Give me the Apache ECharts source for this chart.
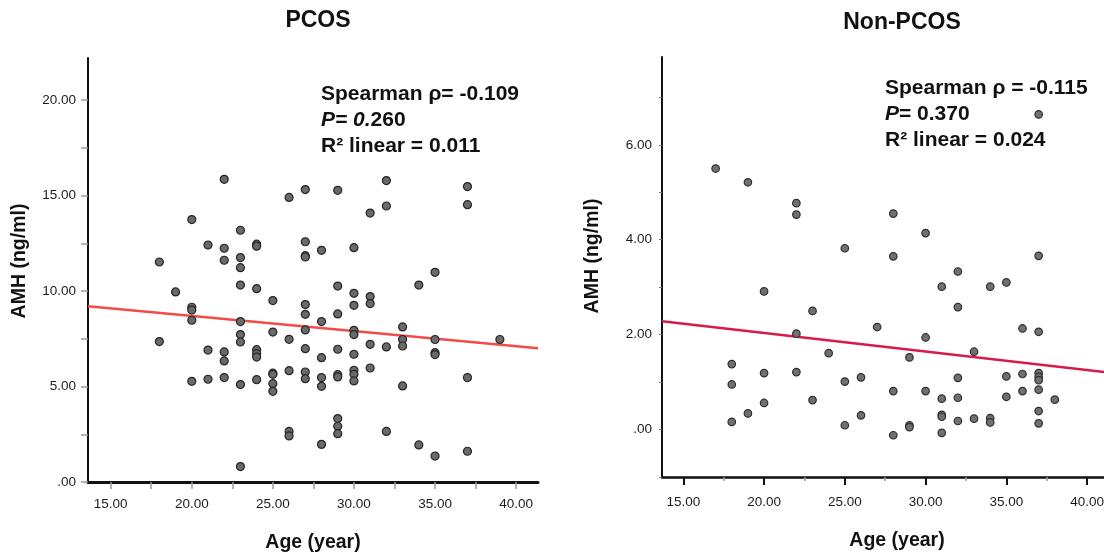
<!DOCTYPE html>
<html>
<head>
<meta charset="utf-8">
<script src="https://cdn.jsdelivr.net/npm/echarts@6/dist/echarts.min.js"></script>
<style>
  html, body { margin: 0; padding: 0; background: #fff; }
  #chart { width: 1104px; height: 556px; }
</style>
</head>
<body>
<div id="chart"></div>
<script>
// PCOS group: ages and the AMH values seen at each age
const pcosAges = [18, 19, 20, 21, 22, 23, 24, 25, 26, 27, 28, 29, 30, 31, 32, 33, 34, 35, 37, 39]
const pcosAmh = [
  [11.52, 7.35],
  [9.95],
  [13.74, 9.15, 9.0, 8.47, 5.27],
  [12.41, 6.91, 5.38],
  [15.85, 12.24, 11.61, 6.81, 6.34, 5.47],
  [13.18, 11.75, 11.22, 10.31, 8.4, 7.72, 7.33, 5.1, 0.81],
  [12.45, 12.35, 10.12, 6.93, 6.72, 6.54, 5.36],
  [9.5, 7.85, 5.7, 5.64, 5.15, 4.75],
  [14.9, 7.47, 5.83, 2.65, 2.41],
  [15.31, 12.58, 11.85, 11.78, 9.29, 8.78, 7.96, 6.98, 5.76, 5.41],
  [12.13, 8.4, 6.51, 5.47, 5.01, 1.97],
  [15.27, 10.26, 8.8, 6.95, 5.62, 5.5, 3.32, 2.92, 2.53],
  [12.27, 9.88, 9.25, 7.94, 7.72, 6.69, 5.85, 5.64, 5.29],
  [14.08, 9.71, 9.34, 7.21, 5.97],
  [15.78, 14.45, 7.07, 2.65],
  [8.12, 7.46, 7.12, 5.03],
  [10.31, 1.94],
  [10.98, 7.46, 6.77, 6.67, 1.36],
  [15.47, 14.52, 5.47, 1.61],
  [7.46]
]
// linear fit line (ends at the axis extent)
const pcosFitAge = [13.6, 41.35]
const pcosFitAmh = [9.2, 7.0]

// Non-PCOS group
const nonAges = [17, 18, 19, 20, 22, 23, 24, 25, 26, 27, 28, 29, 30, 31, 32, 33, 34, 35, 36, 37, 38]
const nonAmh = [
  [5.5],
  [1.38, 0.95, 0.16],
  [5.21, 0.34],
  [2.91, 1.19, 0.56],
  [4.77, 4.53, 2.02, 1.21],
  [2.5, 0.62],
  [1.61],
  [3.82, 1.01, 0.09],
  [1.1, 0.3],
  [2.16],
  [4.55, 3.65, 0.81, -0.12],
  [1.52, 0.09, 0.05],
  [4.14, 1.94, 0.81],
  [3.01, 0.65, 0.31, 0.27, -0.07],
  [3.33, 2.58, 1.09, 0.67, 0.18],
  [1.64, 0.23],
  [3.01, 0.24, 0.15],
  [3.1, 1.12, 0.69],
  [2.13, 1.17, 0.81],
  [6.64, 3.66, 2.06, 1.19, 1.11, 1.04, 0.84, 0.39, 0.13],
  [0.63]
]
const nonFitAge = [13.68, 42.78]
const nonFitAmh = [2.28, 1.145]

// tick labels
const ageMajor = [15, 20, 25, 30, 35, 40]
const ageMinor = [17.5, 22.5, 27.5, 32.5, 37.5]
const ageTicks = [15, 17.5, 20, 22.5, 25, 27.5, 30, 32.5, 35, 37.5, 40]
const pcosYLabels = [0, 5, 10, 15, 20]
const pcosYTicks = [0, 2.5, 5, 7.5, 10, 12.5, 15, 17.5, 20]
const nonYLabels = [0, 2, 4, 6]
const nonYTicks = [-1, 0, 1, 2, 3, 4, 5, 6, 7]

const toPoints = (ages, vals) => ages.flatMap((a, i) => vals[i].map(v => [a, v]))
const pairs = (xs, ys) => xs.map((x, i) => [x, ys[i]])
const fmt = v => (v === 0 ? '.00' : v.toFixed(2))

const FONT = '"Liberation Sans", Arial, sans-serif'

const chart = echarts.init(document.getElementById('chart'))

const tickLabel = { fontFamily: FONT, fontSize: 13.5, color: '#1c1c1c' }
const axisName = { fontFamily: FONT, fontSize: 19.5, fontWeight: 'bold', color: '#111' }
const rich = {
  a: { fontFamily: FONT, fontSize: 21, fontWeight: 'bold', color: '#111', lineHeight: 26 },
  i: { fontFamily: FONT, fontSize: 21, fontWeight: 'bold', fontStyle: 'italic', color: '#111', lineHeight: 26 }
}
const titleStyle = { fontFamily: FONT, fontSize: 23, fontWeight: 'bold', color: '#111' }

const options = {
  animation: false,
  backgroundColor: '#fff',
  title: [
    { text: 'PCOS', left: 313, top: 4, textAlign: 'center', textStyle: titleStyle },
    { text: 'Non-PCOS', left: 897, top: 6, textAlign: 'center', textStyle: titleStyle },
    { text: '{a|Spearman ρ= -0.109}\n{i|P= 0.}{a|260}\n{a|R² linear = 0.011}', left: 316, top: 76, textStyle: { rich } },
    { text: '{a|Spearman ρ = -0.115}\n{i|P}{a|= 0.370}\n{a|R² linear = 0.024}', left: 880, top: 70, textStyle: { rich } }
  ],
  // keep the plot boxes exactly where they are (no auto shrink to fit labels)
  grid: [
    { left: 88, top: 58, width: 450, height: 424, outerBoundsMode: 'none', containLabel: false },
    { left: 662, top: 57, width: 470, height: 420, outerBoundsMode: 'none', containLabel: false }
  ],
  xAxis: [
    {
      gridIndex: 0, type: 'value', min: 13.6, max: 41.35, position: 'bottom',
      name: 'Age (year)', nameLocation: 'middle', nameGap: 51, nameTextStyle: axisName,
      axisLine: { onZero: false, lineStyle: { color: '#111', width: 3 } },
      axisTick: { customValues: ageTicks, length: 7, lineStyle: { color: '#9a9a9a', width: 1.5 } },
      axisLabel: { customValues: ageMajor, margin: 15, formatter: fmt, ...tickLabel },
      splitLine: { show: false }
    },
    {
      gridIndex: 1, type: 'value', min: 13.68, max: 42.78, position: 'bottom',
      name: 'Age (year)', nameLocation: 'middle', nameGap: 54, nameTextStyle: axisName,
      axisLine: { onZero: false, lineStyle: { color: '#111', width: 2.5 } },
      axisTick: { customValues: ageMajor, length: 8, lineStyle: { color: '#111', width: 2 } },
      axisLabel: { customValues: ageMajor, margin: 18, formatter: fmt, ...tickLabel },
      splitLine: { show: false }
    },
    {
      gridIndex: 1, type: 'value', min: 13.68, max: 42.78, position: 'bottom',
      axisLine: { show: false, onZero: false },
      axisTick: { customValues: ageMinor, length: 4, lineStyle: { color: '#999', width: 1.5 } },
      axisLabel: { show: false },
      splitLine: { show: false }
    }
  ],
  yAxis: [
    {
      gridIndex: 0, type: 'value', min: 0, max: 22.2,
      axisLine: { show: true, onZero: false, lineStyle: { color: '#111', width: 2 } },
      axisTick: { show: true, customValues: pcosYTicks, length: 7, lineStyle: { color: '#9a9a9a', width: 1.5 } },
      axisLabel: { customValues: pcosYLabels, margin: 12, formatter: fmt, ...tickLabel },
      splitLine: { show: false }
    },
    {
      gridIndex: 1, type: 'value', min: -1, max: 7.85,
      axisLine: { show: true, onZero: false, lineStyle: { color: '#111', width: 2 } },
      axisTick: { show: true, customValues: nonYTicks, length: 3, lineStyle: { color: '#777', width: 1 } },
      axisLabel: { customValues: nonYLabels, margin: 10, formatter: fmt, ...tickLabel },
      splitLine: { show: false }
    }
  ],
  graphic: [
    { type: 'text', x: 20, y: 261, rotation: Math.PI / 2, style: { text: 'AMH (ng/ml)', font: 'bold 19.5px ' + FONT, fill: '#111', align: 'center', verticalAlign: 'middle' } },
    { type: 'text', x: 593, y: 256, rotation: Math.PI / 2, style: { text: 'AMH (ng/ml)', font: 'bold 19.5px ' + FONT, fill: '#111', align: 'center', verticalAlign: 'middle' } }
  ],
  series: [
    {
      type: 'line', xAxisIndex: 0, yAxisIndex: 0, data: pairs(pcosFitAge, pcosFitAmh),
      symbol: 'none', lineStyle: { color: '#f04d47', width: 2.5 }, z: 1
    },
    {
      type: 'scatter', xAxisIndex: 0, yAxisIndex: 0, data: toPoints(pcosAges, pcosAmh),
      symbolSize: 8, itemStyle: { color: '#6a6a6a', borderColor: '#262626', borderWidth: 1.2, opacity: 1 }, z: 2
    },
    {
      type: 'line', xAxisIndex: 1, yAxisIndex: 1, data: pairs(nonFitAge, nonFitAmh),
      symbol: 'none', lineStyle: { color: '#d71a48', width: 2.5 }, z: 1
    },
    {
      type: 'scatter', xAxisIndex: 1, yAxisIndex: 1, data: toPoints(nonAges, nonAmh),
      symbolSize: 7.5, itemStyle: { color: '#707070', borderColor: '#2e2e2e', borderWidth: 1.2, opacity: 1 }, z: 2
    }
  ]
}
chart.setOption(options)
</script>
</body>
</html>
